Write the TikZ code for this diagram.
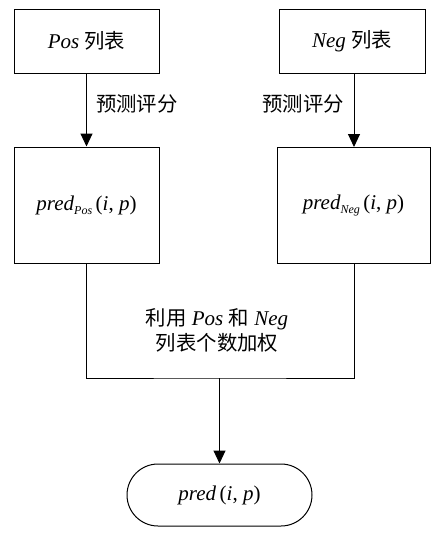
\documentclass[tikz,border=0pt]{standalone}
\usepackage{fontspec}
\setmainfont{Liberation Serif}
\newfontfamily\cjk{Noto Sans CJK SC}[Scale=0.97]
\usetikzlibrary{arrows.meta}
\tikzset{
  box/.style={draw, line width=1pt, rectangle, inner sep=0pt, align=center},
  term/.style={draw, line width=1pt, rectangle, rounded corners=31pt, minimum width=185pt, minimum height=62pt, inner sep=0pt},
  conn/.style={line width=1pt},
  arr/.style={line width=1pt, -{Triangle[length=13pt,width=12pt]}},
  lbl/.style={inner sep=0pt, align=center},
}
\newcommand{\zh}[1]{{\cjk #1}}
\begin{document}
\begin{tikzpicture}[x=1pt,y=-1pt, font=\fontsize{21}{25}\selectfont]
\useasboundingbox (0,0) rectangle (432,536);
\node[box, minimum width=145pt, minimum height=64pt] (pos) at (86.5,41) {\textit{Pos} \zh{列表}};
\node[box, minimum width=146pt, minimum height=64pt] (neg) at (352,41) {\textit{Neg} \zh{列表}};
\node[box, minimum width=145pt, minimum height=116pt] (pp) at (86.5,205) {\textit{pred}\raisebox{-4pt}{\fontsize{12}{12}\selectfont\itshape Pos}\,(\textit{i}, \textit{p})};
\node[box, minimum width=153pt, minimum height=116pt] (pn) at (353.5,205) {\textit{pred}\raisebox{-4pt}{\fontsize{12}{12}\selectfont\itshape Neg}\,(\textit{i}, \textit{p})};
\node[term] (res) at (219.5,495) {\textit{pred}\,(\textit{i}, \textit{p})};
\coordinate (j) at (219.5,378);
\draw[arr] (pos.south) -- (pp.north -| pos.south);
\draw[arr] (neg.south -| 354,0) -- (354,147);
\draw[conn] (pp.south -| pos.south) |- (j) -| (pn.south -| 354,0);
\draw[arr] (j) -- (res.north);
\node[lbl, anchor=west] (l1) at (96,104) {\zh{预测评分}};
\node[lbl, anchor=east] (l2) at (344,104) {\zh{预测评分}};
\node[lbl] (mid) at (217,330) {\zh{利用} \textit{Pos} \zh{和} \textit{Neg}\\ \zh{列表个数加权}};
\end{tikzpicture}
\end{document}
